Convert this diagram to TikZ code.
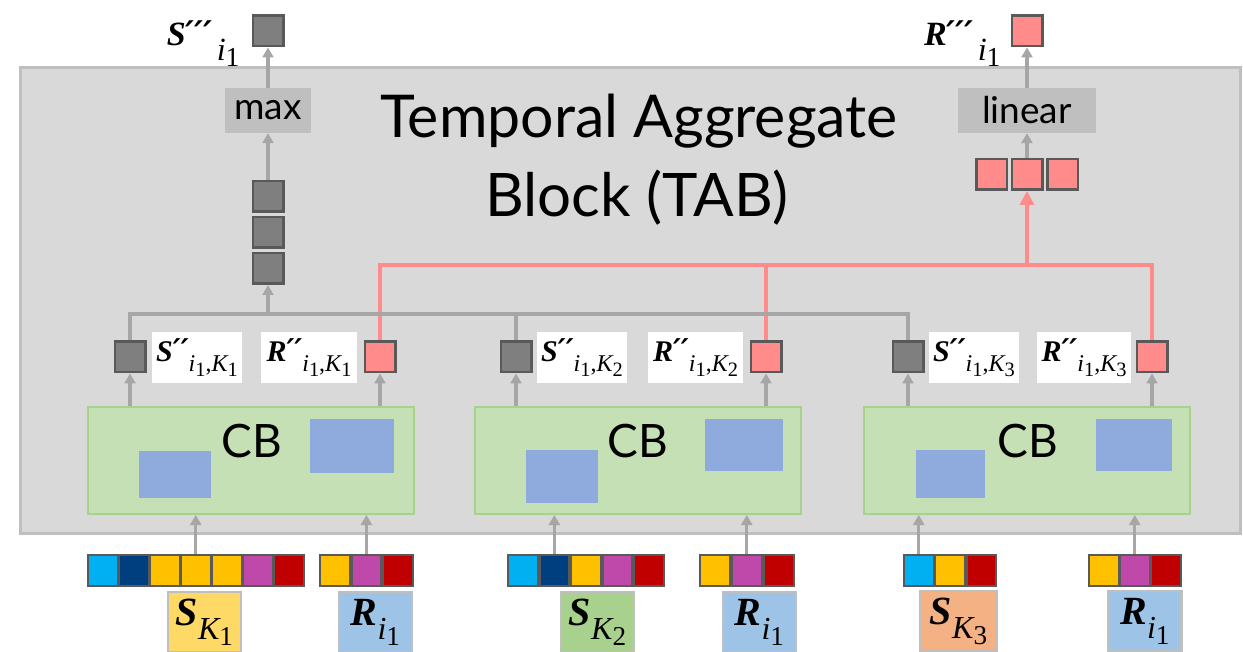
\documentclass[tikz,border=0pt]{standalone}
\usepackage{fontspec}
\setmainfont{Lato}
\newfontfamily\mfont{Liberation Serif}
\newfontfamily\pfont{DejaVu Serif}
\usetikzlibrary{arrows.meta}

\definecolor{tabfill}{HTML}{D9D9D9}
\definecolor{tabborder}{HTML}{BFBFBF}
\definecolor{sqborder}{HTML}{595959}
\definecolor{darkfill}{HTML}{7F7F7F}
\definecolor{pinkfill}{HTML}{FF8B8B}
\definecolor{opgray}{HTML}{BFBFBF}
\definecolor{argray}{HTML}{A6A6A6}
\definecolor{cbfill}{HTML}{C5E0B4}
\definecolor{cbborder}{HTML}{A9D18E}
\definecolor{bluefill}{HTML}{8FAADC}
\definecolor{cyanc}{HTML}{00B0F0}
\definecolor{navyc}{HTML}{003F7F}
\definecolor{yellowc}{HTML}{FFC000}
\definecolor{purplec}{HTML}{BF48AB}
\definecolor{redc}{HTML}{C00000}
\definecolor{skone}{HTML}{FFD966}
\definecolor{sktwo}{HTML}{A9D18E}
\definecolor{skthree}{HTML}{F4B183}
\definecolor{rifill}{HTML}{9DC3E6}

% variable names: bold italic letter, primes, lowered index
\newcommand\bvar[1]{{\mfont\bfseries\itshape #1}}
\newcommand\prm[1]{{\pfont\bfseries\itshape\raisebox{0.02em}{#1}}}
\newcommand\idx[2]{{\mfont\itshape #1}\raisebox{-0.18em}{\scalebox{0.85}{\mfont #2}}}
\newcommand\lo[1]{\raisebox{-0.36em}{\scalebox{0.8}{#1}}}
\newcommand\tlo[1]{\hspace{0.12em}\raisebox{-0.42em}{\scalebox{0.95}{#1}}}

\newcommand\labsize{\fontsize{30}{30}\selectfont}
\newcommand\topsize{\fontsize{34}{34}\selectfont}
\newcommand\insize{\fontsize{40}{40}\selectfont}

\begin{document}
\begin{tikzpicture}[x=1pt,y=-1pt,
  sq/.style={draw=sqborder, line width=2.5pt, minimum size=30.5pt, inner sep=0pt},
  dsq/.style={sq, fill=darkfill},
  psq/.style={sq, fill=pinkfill},
  opbox/.style={fill=opgray, inner sep=0pt, minimum height=45pt, font=\fontsize{37}{37}\selectfont},
  cbbox/.style={draw=cbborder, fill=cbfill, line width=2pt, minimum width=326pt, minimum height=107pt, inner sep=0pt},
  cbtext/.style={font=\fontsize{46}{46}\selectfont},
  blu/.style={fill=bluefill, inner sep=0pt},
  lab/.style={fill=white, inner sep=0pt, minimum height=51pt, font=\labsize},
  cell/.style={draw=sqborder, line width=2pt, minimum width=29.5pt, minimum height=31pt, inner sep=0pt},
  inlab/.style={draw=tabborder, line width=2.5pt, minimum width=73pt, minimum height=60pt, inner sep=0pt, font=\insize},
  gline/.style={draw=argray, line width=3.2pt},
  garrow/.style={gline, -{Triangle[width=11pt,length=10pt]}},
  pline/.style={draw=pinkfill, line width=3.5pt},
  parrow/.style={pline, -{Triangle[width=14pt,length=14pt]}},
  tabbox/.style={draw=tabborder, fill=tabfill, line width=3pt, minimum width=1220pt, minimum height=465pt, inner sep=0pt}
]
\useasboundingbox (0,0) rectangle (1243,652);

% temporal aggregate block
\node[tabbox] (tab) at (630,300.5) {};
\node[font=\fontsize{59}{59}\selectfont] (title1) at (639,121) {Temporal Aggregate};
\node[font=\fontsize{60}{60}\selectfont] (title2) at (637,198) {Block (TAB)};

% outputs
\node[dsq] (sout) at (268,31) {};
\node[anchor=base east, font=\topsize] (soutlab) at (243,46) {\bvar{S}\prm{′′′}\tlo{\idx{i}{1}}};
\node[psq] (rout) at (1027,31) {};
\node[anchor=base east, font=\topsize] (routlab) at (1004,46) {\bvar{R}\prm{′′′}\tlo{\idx{i}{1}}};

\node[opbox, minimum width=86pt] (max) at (268,110.5) {max};
\node[opbox, minimum width=138pt] (lin) at (1027,110.5) {linear};

% stacked features
\node[dsq] (st1) at (268,196.5) {};
\node[dsq] (st2) at (268,232.5) {};
\node[dsq] (st3) at (268,268.5) {};
\node[psq] (pk1) at (991.5,174.5) {};
\node[psq] (pk2) at (1027,174.5) {};
\node[psq] (pk3) at (1062.5,174.5) {};

\draw[garrow] (max.north) -- (sout.south);
\draw[garrow] (st1.north) -- (max.south);
\draw[garrow] (pk2.north) -- (lin.south);
\draw[garrow] (lin.north) -- (rout.south);

% per-sequence outputs
\node[dsq] (sa) at (130,357) {};
\node[dsq] (sb) at (516,357) {};
\node[dsq] (sc) at (908,357) {};
\node[psq] (ra) at (380,357) {};
\node[psq] (rb) at (766,357) {};
\node[psq] (rc) at (1152,357) {};

\node[lab, minimum width=90pt] (sala) at (197,357.5) {\bvar{S}\prm{′′}\lo{\idx{i}{1}{\mfont,}\idx{K}{1}}};
\node[lab, minimum width=96pt] (rala) at (309,357.5) {\bvar{R}\prm{′′}\lo{\idx{i}{1}{\mfont,}\idx{K}{1}}};
\node[lab, minimum width=90pt] (salb) at (582,357.5) {\bvar{S}\prm{′′}\lo{\idx{i}{1}{\mfont,}\idx{K}{2}}};
\node[lab, minimum width=95pt] (ralb) at (695.5,357.5) {\bvar{R}\prm{′′}\lo{\idx{i}{1}{\mfont,}\idx{K}{2}}};
\node[lab, minimum width=90pt] (salc) at (974,357.5) {\bvar{S}\prm{′′}\lo{\idx{i}{1}{\mfont,}\idx{K}{3}}};
\node[lab, minimum width=94pt] (ralc) at (1084,357.5) {\bvar{R}\prm{′′}\lo{\idx{i}{1}{\mfont,}\idx{K}{3}}};

% buses
\coordinate (gbus) at (0,314);
\coordinate (pbus) at (0,265);
\draw[pline] (ra.north) |- (pbus -| rc.north) -- (rc.north);
\draw[pline] (rb.north) -- (rb.north |- pbus);
\draw[parrow] (pk2.south |- pbus) -- (pk2.south);
\draw[gline] (sa.north) |- (gbus -| sc.north) -- (sc.north);
\draw[gline] (sb.north) -- (sb.north |- gbus);
\draw[garrow] (st3.south |- gbus) -- (st3.south);

% CB blocks
\node[cbbox] (cba) at (251,460.5) {};
\node[cbbox] (cbb) at (637.5,460.5) {};
\node[cbbox] (cbc) at (1027,460.5) {};
\node[blu, minimum width=72pt, minimum height=47pt] (ba1) at (175,474.5) {};
\node[blu, minimum width=84pt, minimum height=54pt] (ba2) at (352,446) {};
\node[blu, minimum width=72pt, minimum height=53pt] (bb1) at (562,476.5) {};
\node[blu, minimum width=78pt, minimum height=52pt] (bb2) at (744,445) {};
\node[blu, minimum width=69pt, minimum height=48pt] (bc1) at (950.5,474) {};
\node[blu, minimum width=76pt, minimum height=52pt] (bc2) at (1134,445) {};
\node[cbtext] (cbta) at (252,441) {CB};
\node[cbtext] (cbtb) at (638,441) {CB};
\node[cbtext] (cbtc) at (1028,441) {CB};

\draw[garrow] (sa.south |- cba.north) -- (sa.south);
\draw[garrow] (ra.south |- cba.north) -- (ra.south);
\draw[garrow] (sb.south |- cbb.north) -- (sb.south);
\draw[garrow] (rb.south |- cbb.north) -- (rb.south);
\draw[garrow] (sc.south |- cbc.north) -- (sc.south);
\draw[garrow] (rc.south |- cbc.north) -- (rc.south);

% input sequences
\foreach \c [count=\i] in {cyanc,navyc,yellowc,yellowc,yellowc,purplec,redc}
  \node[cell, fill=\c] (qa-\i) at ({87+15.75+31*(\i-1)},570.5) {};
\foreach \c [count=\i] in {yellowc,purplec,redc}
  \node[cell, fill=\c] (pa-\i) at ({319+15.75+31.7*(\i-1)},570.5) {};
\foreach \c [count=\i] in {cyanc,navyc,yellowc,purplec,redc}
  \node[cell, fill=\c] (qb-\i) at ({507+15.75+31.6*(\i-1)},570.5) {};
\foreach \c [count=\i] in {yellowc,purplec,redc}
  \node[cell, fill=\c] (pb-\i) at ({699+15.75+32*(\i-1)},570.5) {};
\foreach \c [count=\i] in {cyanc,yellowc,redc}
  \node[cell, fill=\c] (qc-\i) at ({903+15.75+31.3*(\i-1)},570.5) {};
\foreach \c [count=\i] in {yellowc,purplec,redc}
  \node[cell, fill=\c] (pc-\i) at ({1088+15.75+31*(\i-1)},570.5) {};

\draw[garrow] (qa-4.north) -- (qa-4.north |- cba.south);
\draw[garrow] (pa-2.north) -- (pa-2.north |- cba.south);
\draw[garrow] (qb-2.north) -- (qb-2.north |- cbb.south);
\draw[garrow] (pb-2.north) -- (pb-2.north |- cbb.south);
\draw[garrow] (qc-1.north) -- (qc-1.north |- cbc.south);
\draw[garrow] (pc-2.north) -- (pc-2.north |- cbc.south);

% input labels
\node[inlab, fill=skone] (ska) at (204.5,622) {\bvar{S}\lo{\idx{K}{1}}};
\node[inlab, fill=rifill] (ria) at (375.5,622) {\bvar{R}\lo{\idx{i}{1}}};
\node[inlab, fill=sktwo] (skb) at (597.5,622) {\bvar{S}\lo{\idx{K}{2}}};
\node[inlab, fill=rifill] (rib) at (759.5,622) {\bvar{R}\lo{\idx{i}{1}}};
\node[inlab, fill=skthree, minimum width=77pt] (skc) at (958.5,621) {\bvar{S}\lo{\idx{K}{3}}};
\node[inlab, fill=rifill] (ric) at (1145,621) {\bvar{R}\lo{\idx{i}{1}}};
\end{tikzpicture}
\end{document}
